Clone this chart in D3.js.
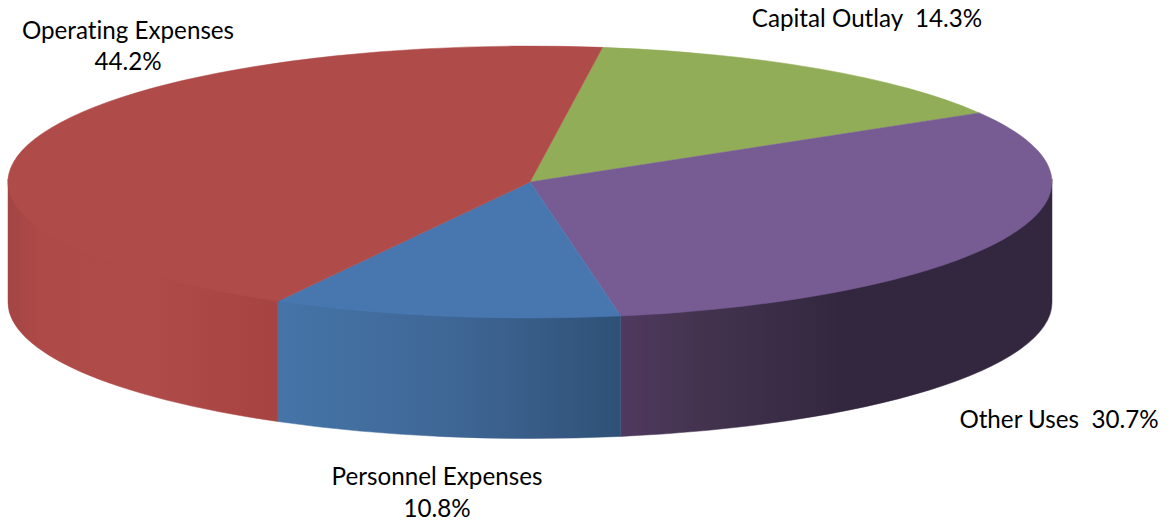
<!DOCTYPE html>
<html><head><meta charset="utf-8">
<script src="https://cdn.jsdelivr.net/npm/d3@7/dist/d3.min.js"></script>
<style>html,body{margin:0;padding:0;background:#fff}svg{display:block}
text{font-family:Lato,"Open Sans",sans-serif;font-size:24.2px;fill:#000;white-space:pre;font-variant-ligatures:none}</style>
</head><body><svg id="c" width="1171" height="525"></svg>
<script>
const categories = ["Capital Outlay", "Other Uses", "Personnel Expenses", "Operating Expenses"];
const shares = [14.3, 30.7, 10.8, 44.2];
const shareLabels = ["14.3%", "30.7%", "10.8%", "44.2%"];
const topColors = ["#92AD58", "#775C94", "#4877B0", "#AF4B48"];
const wallStops = [
  [[0,"#7a9149"],[1,"#7a9149"]],
  [[621,"#50395F"],[700,"#43334F"],[840,"#33273F"],[1052,"#33273F"]],
  [[277,"#4574A8"],[450,"#3F6796"],[621,"#2F5176"]],
  [[8,"#A34543"],[40,"#AE4A47"],[150,"#AF4B48"],[277,"#A64442"]]
];
const labelPlace = [
  {lines:d=>[d.c+"  "+d.l], x:867, y:[27]},
  {lines:d=>[d.c+"  "+d.l], x:1059, y:[428]},
  {lines:d=>[d.c, d.l], x:437, y:[485,517]},
  {lines:d=>[d.c, d.l], x:128, y:[39,70]}
];
const cx=530, cy=182, rx=522, ry=136, depth=120.5;
const startDeg=8.0;

const svg=d3.select("#c"), defs=svg.append("defs");
const tau=2*Math.PI, a0=startDeg/360*tau;
const pie=d3.pie().sort(null).startAngle(a0).endAngle(a0+tau);
const arcs=pie(shares);
const arc=d3.arc().innerRadius(0).outerRadius(1);
const px=a=>cx+rx*Math.sin(a), py=a=>cy-ry*Math.cos(a);

// walls (only the front half, 90deg..270deg, is visible); top edge tucked under the top face
const wall=svg.append("g");
const tuck=3;
arcs.forEach((s,i)=>{
  const lo=Math.max(s.startAngle,tau/4), hi=Math.min(s.endAngle,3*tau/4);
  if(hi<=lo) return;
  const id="w"+i, stops=wallStops[i];
  const xs=stops.map(d=>d[0]), x0=xs[0], x1=xs[xs.length-1];
  const g=defs.append("linearGradient").attr("id",id).attr("gradientUnits","userSpaceOnUse")
    .attr("x1",x0).attr("x2",x1).attr("y1",0).attr("y2",0);
  stops.forEach(d=>g.append("stop").attr("offset",(d[0]-x0)/(x1-x0)).attr("stop-color",d[1]));
  const d=`M${px(lo)},${py(lo)-tuck}A${rx},${ry} 0 0 1 ${px(hi)},${py(hi)-tuck}L${px(hi)},${py(hi)+depth}A${rx},${ry} 0 0 0 ${px(lo)},${py(lo)+depth}Z`;
  // hairline in the slice's own end colour closes the vertical seam
  wall.append("path").attr("d",d).attr("fill",`url(#${id})`)
    .attr("stroke",`url(#${id})`).attr("stroke-width",0.5);
});

// top face, with a hairline of its own colour to close the seams between slices
svg.append("g").attr("transform",`translate(${cx},${cy}) scale(${rx},${ry})`)
  .selectAll("path").data(arcs).join("path")
  .attr("d",arc).attr("fill",(d,i)=>topColors[i])
  .attr("stroke",(d,i)=>topColors[i]).attr("stroke-width",0.5)
  .attr("vector-effect","non-scaling-stroke");

// labels
const lab=svg.append("g");
categories.forEach((c,i)=>{
  const place=labelPlace[i];
  place.lines({c,l:shareLabels[i]}).forEach((t,j)=>{
    lab.append("text").attr("x",place.x).attr("y",place.y[j]).attr("text-anchor","middle").text(t);
  });
});
</script></body></html>
